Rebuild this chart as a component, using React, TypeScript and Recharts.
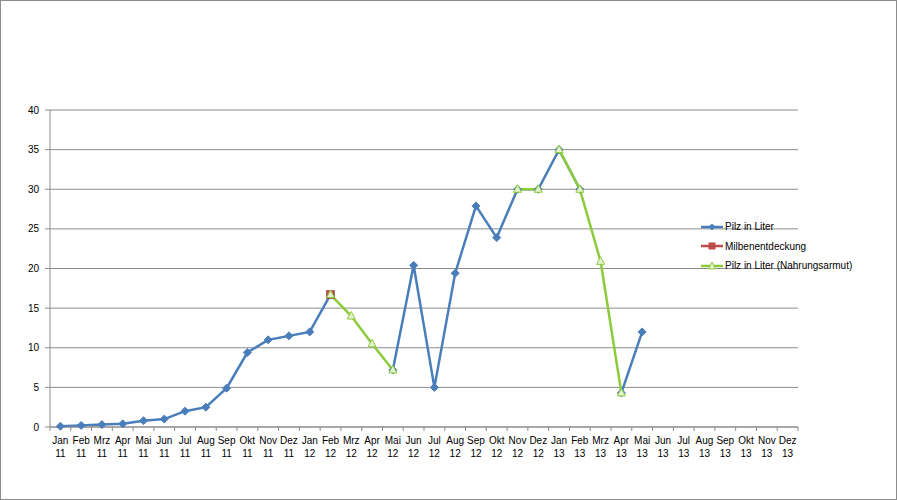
import React from "react";
import { LineChart, Line, XAxis, YAxis, CartesianGrid } from "recharts";

const months = ["Jan", "Feb", "Mrz", "Apr", "Mai", "Jun", "Jul", "Aug", "Sep", "Okt", "Nov", "Dez"];
const years = ["11", "12", "13"];

const pilz: (number | null)[] = [
  0.1, 0.2, 0.3, 0.4, 0.8, 1.0, 2.0, 2.5, 4.9, 9.4, 11.0, 11.5,
  12.0, 16.7, null, null, 7.2, 20.4, 5.0, 19.4, 27.9, 23.9, 30.0, 30.0,
  35.0, 30.0, null, 4.3, 12.0, null, null, null, null, null, null, null,
];
const milben: (number | null)[] = [
  null, null, null, null, null, null, null, null, null, null, null, null,
  null, 16.7, null, null, null, null, null, null, null, null, null, null,
  null, null, null, null, null, null, null, null, null, null, null, null,
];
const armut: (number | null)[] = [
  null, null, null, null, null, null, null, null, null, null, null, null,
  null, 16.7, 14.0, 10.5, 7.2, null, null, null, null, null, 30.0, 30.0,
  null, null, null, null, null, null, null, null, null, null, null, null,
];
const armut13: (number | null)[] = [
  null, null, null, null, null, null, null, null, null, null, null, null,
  null, null, null, null, null, null, null, null, null, null, null, null,
  35.0, 30.0, 20.9, 4.3, null, null, null, null, null, null, null, null,
];
const yTicks = [0, 5, 10, 15, 20, 25, 30, 35, 40];

const labels = years.flatMap((y) => months.map((m) => `${m} ${y}`));
const data = labels.map((label, i) => ({
  label,
  pilz: pilz[i],
  milben: milben[i],
  armut: armut[i],
  armut13: armut13[i],
}));

const BLUE = "#4A7EBB";
const RED = "#BE4B48";
const GREEN = "#8CCB3A";
const FONT = "'Liberation Sans', Arial, sans-serif";
const HALF = 748 / 36 / 2;

const Diamond = (props: any) => {
  const { cx, cy, value } = props;
  if (value == null || cx == null) return null;
  return <path key={props.index} d={`M${cx},${cy - 4} L${cx + 4},${cy} L${cx},${cy + 4} L${cx - 4},${cy} Z`} fill={BLUE} stroke={BLUE} />;
};
const Square = (props: any) => {
  const { cx, cy, value } = props;
  if (value == null || cx == null) return null;
  return <rect key={props.index} x={cx - 4} y={cy - 4} width={8} height={8} fill={RED} stroke="#9E3B38" strokeWidth={0.6} />;
};
const Triangle = (props: any) => {
  const { cx, cy, value } = props;
  if (value == null || cx == null) return null;
  return <path key={props.index} d={`M${cx},${cy - 4.5} L${cx + 4},${cy + 3} L${cx - 4},${cy + 3} Z`} fill="#E4F2D2" stroke={GREEN} strokeWidth={1} />;
};

const MonthTick = (props: any) => {
  const { x, y, payload, index } = props;
  const [m, yr] = String(payload.value).split(" ");
  return (
    <g>
      <line x1={x - HALF} y1={y - 8} x2={x - HALF} y2={y - 4} stroke="#8C8C8C" />
      {index === 35 && <line x1={x + HALF} y1={y - 8} x2={x + HALF} y2={y - 4} stroke="#8C8C8C" />}
      <text x={x} y={y + 9} textAnchor="middle" fontSize={10} fill="#000" fontFamily={FONT}>{m}</text>
      <text x={x} y={y + 22} textAnchor="middle" fontSize={10} fill="#000" fontFamily={FONT}>{yr}</text>
    </g>
  );
};

const legendItems = [
  { name: "Pilz in Liter", color: BLUE, marker: "diamond" },
  { name: "Milbenentdeckung", color: RED, marker: "square" },
  { name: "Pilz in Liter (Nahrungsarmut)", color: GREEN, marker: "triangle" },
];

export default function App() {
  return (
    <div style={{ position: "relative", width: 897, height: 500, boxSizing: "border-box", border: "1px solid #8C8C8C", background: "#fff" }}>
      <style>{"body{margin:0}"}</style>
      <LineChart width={895} height={498} data={data} margin={{ top: 109, right: 98, bottom: 44, left: 0 }}>
        <CartesianGrid vertical={false} stroke="#8C8C8C" />
        <XAxis
          dataKey="label"
          interval={0}
          stroke="#8C8C8C"
          tickLine={false}
          tick={<MonthTick />}
          padding={{ left: HALF, right: HALF }}
          height={28}
        />
        <YAxis
          domain={[0, 40]}
          ticks={yTicks}
          width={49}
          stroke="#8C8C8C"
          tickSize={5}
          tick={{ fontSize: 10, fill: "#000", fontFamily: FONT, dx: -4 }}
        />
        <Line dataKey="pilz" stroke={BLUE} strokeWidth={2.5} dot={<Diamond />} isAnimationActive={false} />
        <Line dataKey="milben" stroke={RED} strokeWidth={2.5} dot={<Square />} isAnimationActive={false} />
        <Line dataKey="armut" stroke={GREEN} strokeWidth={2.5} dot={<Triangle />} isAnimationActive={false} />
        <Line dataKey="armut13" stroke={GREEN} strokeWidth={2.5} dot={<Triangle />} isAnimationActive={false} />
      </LineChart>
      <div style={{ position: "absolute", left: 700, top: 216, fontFamily: FONT, fontSize: 10 }}>
        {legendItems.map((it) => (
          <div key={it.name} style={{ display: "flex", alignItems: "center", height: 19.5 }}>
            <svg width={22} height={10} style={{ marginRight: 2 }}>
              <line x1={0} y1={5} x2={22} y2={5} stroke={it.color} strokeWidth={2.5} />
              {it.marker === "diamond" && <path d="M11,1.5 L14.5,5 L11,8.5 L7.5,5 Z" fill={it.color} />}
              {it.marker === "square" && <rect x={7.5} y={1.5} width={7} height={7} fill={it.color} />}
              {it.marker === "triangle" && <path d="M11,1 L14.5,8 L7.5,8 Z" fill="#E4F2D2" stroke={it.color} />}
            </svg>
            <span>{it.name}</span>
          </div>
        ))}
      </div>
    </div>
  );
}
